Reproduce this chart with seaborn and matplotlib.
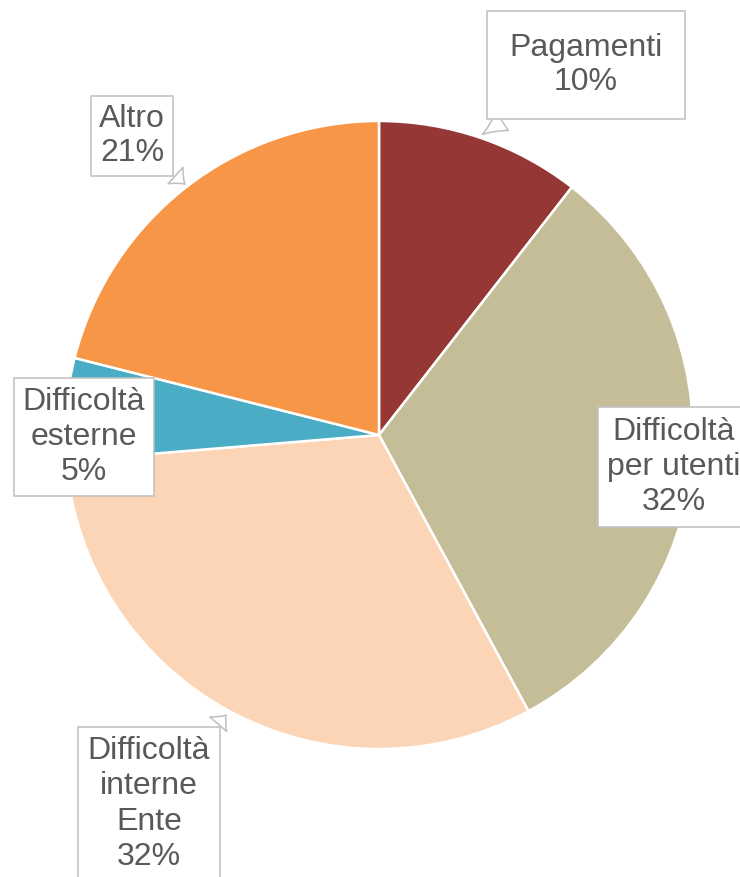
import matplotlib
matplotlib.use("Agg")
import matplotlib.pyplot as plt
import seaborn as sns

# Data
categories = ["Pagamenti", "Difficoltà\nper utenti", "Difficoltà\ninterne\nEnte",
              "Difficoltà\nesterne", "Altro"]
counts = [2, 6, 6, 1, 4]
pct_labels = ["10%", "32%", "32%", "5%", "21%"]
colors = ["#953735", "#C4BD97", "#FBD5B5", "#4BACC6", "#F79646"]

sns.set_style("white")
plt.rcParams["font.family"] = ["Liberation Sans", "DejaVu Sans"]

fig = plt.figure(figsize=(7.4, 8.77), dpi=100)
ax = fig.add_axes([0, 0, 1, 1])
ax.set_xlim(0, 740)
ax.set_ylim(0, 877)
ax.set_aspect("equal")
ax.axis("off")

wedges, _ = ax.pie(counts, colors=colors, startangle=90, counterclock=False,
                   center=(379, 442), radius=314,
                   wedgeprops=dict(edgecolor="white", linewidth=1.8))
ax.set_xlim(0, 740)
ax.set_ylim(0, 877)

# label positions (text centre), box padding and pointer tips, in pixel space
label_pos = [(586, 812), (674, 410), (149, 73), (84, 440), (132, 741)]
pads = [0.7, 0.3, 0.3, 0.28, 0.25]
pointer = [(480, 741), None, (228, 164), None, (187, 691)]

for cat, pct, pos, pad, tip in zip(categories, pct_labels, label_pos, pads, pointer):
    txt = f"{cat}\n{pct}"
    box = dict(boxstyle=f"square,pad={pad}", fc="white", ec="#BFBFBF", lw=1.1)
    ls = 1.15 if tip is not None and "\n" not in cat else 1.22
    if tip is None:
        ax.text(pos[0], pos[1], txt, ha="center", va="center", fontsize=23,
                color="#595959", bbox=box, linespacing=ls)
    else:
        ax.annotate(txt, xy=tip, xytext=pos, ha="center", va="center",
                    fontsize=23, color="#595959", bbox=box, linespacing=ls,
                    arrowprops=dict(arrowstyle="wedge,tail_width=0.7,shrink_factor=0.4",
                                    fc="white", ec="#BFBFBF", lw=1.1))

fig.savefig("out.png", dpi=100)
